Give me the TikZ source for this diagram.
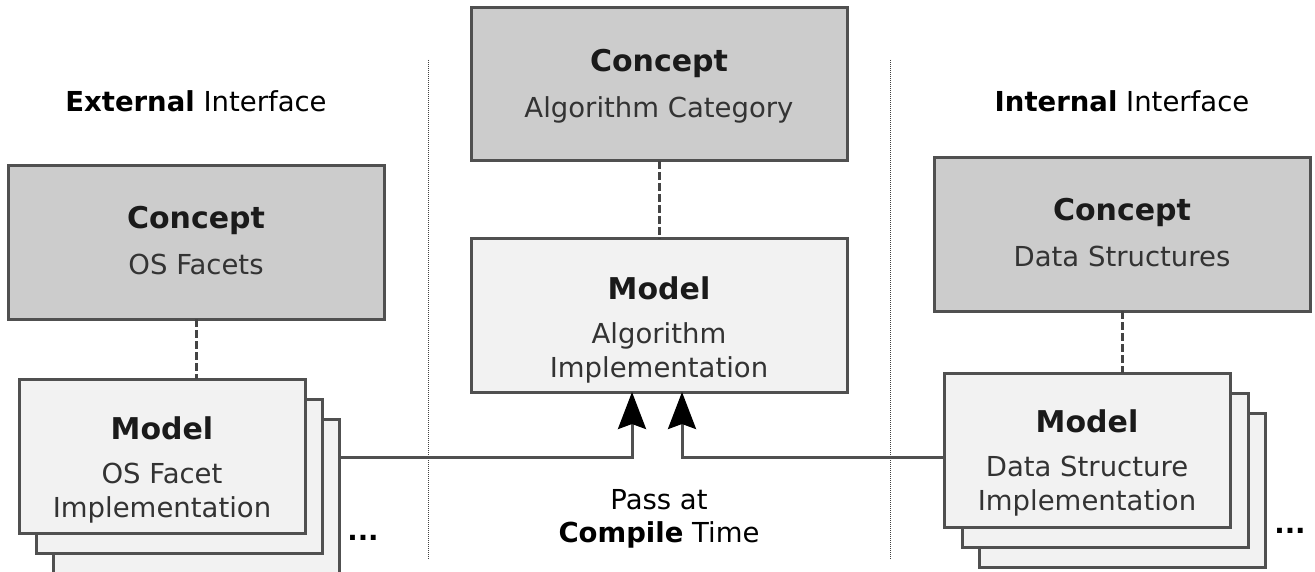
\documentclass[tikz,border=0pt]{standalone}
\usepackage{fontspec}
\setmainfont{DejaVu Sans}
\usetikzlibrary{arrows.meta}
\definecolor{edge}{HTML}{505050}
\definecolor{conceptfill}{HTML}{CCCCCC}
\definecolor{modelfill}{HTML}{F2F2F2}
\definecolor{bodytext}{HTML}{333333}
\definecolor{headtext}{HTML}{1A1A1A}
\begin{document}
\begin{tikzpicture}[x=1pt,y=-1pt,
  box/.style={draw=edge, line width=3pt, rectangle, inner sep=0pt, outer sep=0pt, anchor=north west},
  conceptbox/.style={box, fill=conceptfill, minimum width=376pt, minimum height=153pt},
  modelbox/.style={box, fill=modelfill, minimum width=286pt, minimum height=154pt},
  head/.style={anchor=base, font=\fontsize{30}{36}\selectfont\bfseries, text=headtext, inner sep=0pt},
  body/.style={anchor=base, font=\fontsize{27.5}{33}\selectfont, text=bodytext, inner sep=0pt},
  caption/.style={anchor=base, font=\fontsize{27.5}{33}\selectfont, text=black, inner sep=0pt},
  link/.style={draw=edge!85!black, line width=3pt, dash pattern=on 8pt off 3pt},
  pass/.style={draw=edge, line width=3pt, -{Stealth[length=37pt, width=28pt, inset=5pt, color=black]}},
  divider/.style={draw=black!75, line width=0.9pt, dash pattern=on 1pt off 1pt}]

\useasboundingbox (0,0) rectangle (1315,572);
\clip (0,0) rectangle (1315,572);

% column dividers
\draw[divider] (428,60) -- (428,560);
\draw[divider] (890,60) -- (890,560);

% column titles
\node[caption] (extT) at (196,112) {\textbf{External} Interface};
\node[caption] (intT) at (1122,112) {\textbf{Internal} Interface};

% concepts
\node[conceptbox] (cl) at (8,166) {};
\node[conceptbox] (cm) at (471,8) {};
\node[conceptbox] (cr) at (934,158) {};

\node[head] at (196,229) {Concept};
\node[body] at (196,275) {OS Facets};
\node[head] at (659,72) {Concept};
\node[body] at (659,118) {Algorithm Category};
\node[head] at (1122,221) {Concept};
\node[body] at (1122,267) {Data Structures};

% algorithm model
\node[box, fill=modelfill, minimum width=376pt, minimum height=153pt] (mm) at (471,239) {};
\node[head] at (659,299) {Model};
\node[body] at (659,343) {Algorithm};
\node[body] at (659,377) {Implementation};

% OS facet models (stack)
\node[modelbox, minimum height=156pt] (l3) at (53,419) {};
\node[modelbox] (l2) at (36,399) {};
\node[modelbox] (l1) at (19,379) {};
\node[head] at (162,439) {Model};
\node[body] at (162,483) {OS Facet};
\node[body] at (162,517) {Implementation};
\node[caption, font=\fontsize{27.5}{33}\selectfont\bfseries] (ldots) at (363,540) {...};

% data structure models (stack)
\node[modelbox] (r3) at (979,413) {};
\node[modelbox] (r2) at (962,393) {};
\node[modelbox] (r1) at (944,373) {};
\node[head] at (1087,432) {Model};
\node[body] at (1087,476) {Data Structure};
\node[body] at (1087,510) {Implementation};
\node[caption, font=\fontsize{27.5}{33}\selectfont\bfseries] (rdots) at (1290,533) {...};

% concept -- model relations
\draw[link] (cl.south) -- (cl.south |- l1.north);
\draw[link] (cm.south) -- (mm.north);
\draw[link] (cr.south) -- (cr.south |- r1.north);

% compile-time passing
\coordinate (ly) at (0,457);
\coordinate (aL) at (632,0);
\coordinate (aR) at (682,0);
\draw[pass] (l3.east |- ly) -| (mm.south -| aL);
\draw[pass] (r1.west |- ly) -| (mm.south -| aR);

\node[caption] (pass1) at (659,509) {Pass at};
\node[caption] (pass2) at (659,542) {\textbf{Compile} Time};
\end{tikzpicture}
\end{document}
